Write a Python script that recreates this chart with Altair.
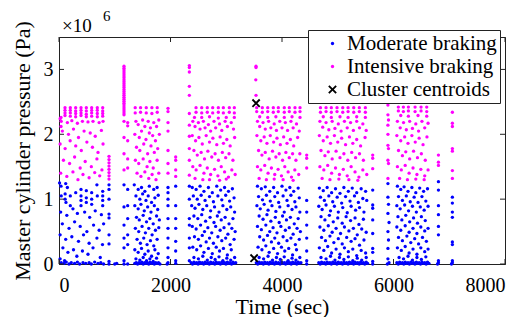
import altair as alt
import pandas as pd

# ---------------- data (time in s, pressure in 10^6 Pa) ----------------
B1_MOD = [(10,1.25),(36,1.2),(120,1.24),(150,1.18),(395,1.15),(490,1.13),(680,1.22),(40,1.05),(110,1.08),(110,1.0),
          (125,0.95),(203,1.05),(203,0.9),(300,1.1),(395,1.05),(395,0.98),(395,0.9),(490,1.02),(490,0.95),(586,1.1),
          (586,1.0),(586,0.92),(687,1.05),(784,1.12),(784,1.05),(784,0.98),(784,0.9),(30,0.8),(140,0.75),(250,0.85),
          (330,0.78),(460,0.8),(550,0.72),(650,0.82),(760,0.76),(60,0.62),(180,0.55),(280,0.65),(380,0.58),(500,0.5),
          (620,0.6),(720,0.52),(800,0.62),(20,0.45),(120,0.38),(230,0.42),(350,0.35),(440,0.45),(540,0.32),(680,0.4),
          (780,0.3),(70,0.25),(160,0.18),(260,0.22),(320,0.12),(420,0.2),(520,0.15),(610,0.25),(740,0.1),(20,0.08),
          (100,0.05),(40,0.02),(90,0.01),(130,0.03),(180,0.0),(220,0.02),(280,0.01),(330,0.03),(370,0.0),(430,0.02),
          (480,0.01),(540,0.02),(580,0.0),(640,0.03),(700,0.01),(750,0.02),(800,0.0),(897,1.22),(897,1.15),(897,1.0),
          (897,0.77),(897,0.71),(897,0.45),(897,0.31),(897,0.04),(897,0.0),(1035,0.01),(1000,0.0)]
B1_INT = [(108,2.41),(108,2.37),(108,2.33),(108,2.29),(203,2.41),(203,2.37),(203,2.33),(203,2.28),(299,2.41),(299,2.36),
          (299,2.32),(299,2.27),(395,2.41),(395,2.37),(395,2.33),(395,2.29),(490,2.41),(490,2.36),(490,2.31),(490,2.27),
          (586,2.41),(586,2.37),(586,2.33),(586,2.28),(687,2.41),(687,2.37),(687,2.32),(687,2.27),(784,2.41),(784,2.36),
          (784,2.32),(784,2.28),(36,2.26),(20,2.24),(36,2.12),(40,2.2),(150,2.18),(230,2.21),(330,2.17),(420,2.2),
          (520,2.19),(610,2.2),(720,2.18),(790,2.2),(60,2.05),(170,2.0),(260,2.08),(350,1.95),(450,2.05),(560,2.02),
          (650,1.97),(760,2.06),(20,1.85),(110,1.78),(200,1.9),(300,1.82),(400,1.75),(500,1.88),(600,1.8),(700,1.72),
          (790,1.85),(80,1.6),(190,1.55),(280,1.65),(380,1.48),(470,1.58),(580,1.5),(680,1.62),(770,1.45),(30,1.4),
          (140,1.35),(250,1.42),(340,1.3),(430,1.38),(540,1.33),(640,1.41),(730,1.36),(897,1.66),(897,1.61),(897,1.56),
          (897,1.51),(897,1.46),(897,1.41),(897,1.36),(897,1.31)]

B2_MOD = [(1166,1.22),(1166,0.88),(1166,0.6),(1166,0.4),(1166,0.25),(1166,0.05),(1166,0.0),(1232,1.15),(1232,0.9),(1232,0.7),
          (1232,0.45),(1232,0.3),(1232,0.0),(1350,1.22),(1420,1.15),(1480,1.18),(1540,1.12),(1620,1.2),(1700,1.15),(1760,1.18),
          (1380,1.05),(1450,1.0),(1500,1.08),(1560,0.98),(1600,1.05),(1660,0.95),(1720,1.02),(1780,1.06),(1360,0.9),(1420,0.85),
          (1470,0.92),(1530,0.82),(1590,0.88),(1650,0.8),(1710,0.9),(1770,0.84),(1390,0.72),(1440,0.68),(1510,0.75),(1570,0.65),
          (1630,0.7),(1690,0.62),(1750,0.74),(1800,0.68),(1370,0.55),(1430,0.5),(1490,0.58),(1550,0.48),(1610,0.55),(1670,0.45),
          (1730,0.52),(1790,0.56),(1400,0.38),(1460,0.32),(1520,0.4),(1580,0.3),(1640,0.36),(1700,0.28),(1760,0.38),(1360,0.22),
          (1420,0.18),(1480,0.24),(1540,0.15),(1600,0.2),(1660,0.12),(1720,0.22),(1780,0.16),(1380,0.08),(1450,0.06),(1510,0.1),
          (1570,0.05),(1630,0.08),(1690,0.04),(1750,0.09),(1360,0.01),(1385,0.02),(1410,0.0),(1435,0.02),(1460,0.01),(1485,0.03),
          (1510,0.0),(1535,0.02),(1560,0.01),(1585,0.02),(1610,0.0),(1635,0.03),(1660,0.01),(1685,0.02),(1710,0.0),(1735,0.02),
          (1760,0.01),(1785,0.02),(1810,0.0),(1955,1.18),(1955,1.1),(1955,1.0),(1955,0.9),(1955,0.7),(1955,0.55),(1955,0.4),
          (1955,0.25),(1955,0.1),(1955,0.02),(1940,0.0),(2093,1.2),(2093,0.9),(2093,0.7),(2093,0.55),(2093,0.35),(2093,0.2),
          (2093,0.05),(2093,0.01)]
B2_INT = [(1166,3.05),(1166,3.02),(1166,2.99),(1166,2.96),(1166,2.93),(1166,2.9),(1166,2.87),(1166,2.84),(1166,2.81),(1166,2.78),
          (1166,2.75),(1166,2.72),(1166,2.69),(1166,2.66),(1166,2.63),(1166,2.6),(1166,2.57),(1166,2.54),(1166,2.51),(1166,2.48),
          (1166,2.45),(1166,2.42),(1166,2.39),(1166,2.36),(1166,2.33),(1166,2.3),(1166,2.2),(1166,1.95),(1166,1.7),(1166,1.45),
          (1232,2.18),(1232,2.13),(1232,1.9),(1232,1.62),(1232,1.48),(1367,2.41),(1463,2.41),(1565,2.41),(1666,2.41),(1762,2.41),
          (1367,2.33),(1463,2.34),(1565,2.33),(1666,2.32),(1762,2.34),(1380,2.2),(1420,2.15),(1500,2.22),(1540,2.12),(1600,2.2),
          (1640,2.1),(1700,2.18),(1750,2.12),(1790,2.22),(1360,2.0),(1440,1.95),(1480,2.05),(1560,1.92),(1620,2.02),(1680,1.98),
          (1730,1.9),(1800,2.0),(1390,1.8),(1450,1.75),(1520,1.85),(1590,1.7),(1650,1.82),(1710,1.72),(1770,1.78),(1370,1.6),
          (1430,1.55),(1510,1.62),(1580,1.5),(1630,1.58),(1690,1.48),(1760,1.6),(1400,1.4),(1470,1.35),(1540,1.42),(1610,1.32),
          (1670,1.38),(1740,1.3),(1790,1.4),(1955,2.4),(1955,2.35),(1955,2.18),(1955,2.05),(1955,1.75),(1955,1.55),(1955,1.4),
          (2093,1.65),(2093,1.6),(2093,1.45),(2093,1.35)]

B3_MOD = [(2338,1.2),(2338,1.0),(2338,0.7),(2338,0.6),(2338,0.4),(2338,0.25),(2338,0.05),
          (2390,1.18),(2460,1.15),(2530,1.2),(2600,1.12),(2680,1.18),(2750,1.1),(2830,1.2),(2900,1.14),(2970,1.18),(3040,1.12),
          (3110,1.16),(2410,1.05),(2480,1.0),(2550,1.06),(2620,0.98),(2700,1.04),(2770,0.96),(2850,1.05),(2920,0.99),(2990,1.06),
          (3060,0.97),(3140,1.02),(2380,0.9),(2440,0.86),(2510,0.92),(2580,0.84),(2650,0.9),(2720,0.82),(2790,0.88),(2870,0.8),
          (2940,0.9),(3010,0.84),(3080,0.88),(3150,0.8),(2420,0.74),(2490,0.7),(2560,0.76),(2630,0.66),(2710,0.72),(2780,0.64),
          (2840,0.74),(2910,0.68),(2980,0.72),(3050,0.62),(3120,0.7),(2390,0.58),(2460,0.54),(2540,0.6),(2610,0.5),(2670,0.56),
          (2740,0.48),(2810,0.58),(2890,0.52),(2960,0.56),(3030,0.46),(3100,0.55),(3160,0.5),(2430,0.42),(2500,0.38),(2570,0.44),
          (2640,0.34),(2700,0.4),(2770,0.32),(2850,0.42),(2920,0.36),(2990,0.4),(3070,0.3),(3140,0.38),(2400,0.26),(2470,0.22),
          (2540,0.28),(2600,0.18),(2680,0.24),(2750,0.16),(2820,0.26),(2880,0.2),(2950,0.24),(3020,0.14),(3090,0.22),(2420,0.1),
          (2500,0.08),(2580,0.12),(2660,0.06),(2730,0.1),(2800,0.07),(2870,0.11),(2940,0.05),(3010,0.09),(3080,0.06),(3150,0.1),
          (2370,0.02),(2395,0.0),(2420,0.03),(2445,0.01),(2470,0.02),(2495,0.0),(2520,0.03),(2545,0.01),(2570,0.02),(2595,0.0),
          (2620,0.03),(2645,0.01),(2670,0.02),(2695,0.0),(2720,0.03),(2745,0.01),(2770,0.02),(2795,0.0),(2820,0.03),(2845,0.01),
          (2870,0.02),(2895,0.0),(2920,0.03),(2945,0.01),(2970,0.02),(2995,0.0),(3020,0.03),(3045,0.01),(3070,0.02),(3095,0.0),
          (3120,0.03),(3145,0.01),(3170,0.02)]
B3_INT = [(2338,3.06),(2338,3.03),(2338,2.96),(2338,2.74),(2338,2.6),(2338,2.32),(2338,2.14),(2338,1.97),(2338,1.78),(2338,1.6),
          (2338,1.37),(2458,2.41),(2560,2.41),(2660,2.41),(2757,2.41),(2858,2.41),(2948,2.41),(3055,2.41),(3145,2.41),(2458,2.34),
          (2560,2.33),(2660,2.34),(2757,2.33),(2858,2.34),(2948,2.33),(3055,2.34),(3145,2.33),(2430,2.26),(2560,2.26),(2700,2.27),
          (2858,2.25),(3000,2.26),(3145,2.26),(2400,2.2),(2440,2.12),(2500,2.18),(2530,2.08),(2590,2.2),(2620,2.1),(2680,2.15),
          (2720,2.05),(2780,2.2),(2810,2.1),(2880,2.16),(2920,2.06),(2980,2.2),(3020,2.12),(3090,2.18),(3130,2.08),(2390,1.98),
          (2450,1.9),(2510,1.95),(2570,1.85),(2640,1.98),(2700,1.88),(2760,1.94),(2830,1.84),(2890,1.96),(2950,1.86),(3010,1.92),
          (3070,1.82),(3150,1.95),(2420,1.75),(2480,1.68),(2550,1.72),(2610,1.62),(2670,1.74),(2740,1.65),(2800,1.7),(2860,1.6),
          (2930,1.72),(2990,1.64),(3050,1.7),(3120,1.6),(2400,1.5),(2460,1.45),(2530,1.52),(2600,1.4),(2660,1.48),(2720,1.38),
          (2790,1.46),(2850,1.36),(2910,1.5),(2970,1.42),(3040,1.34),(3100,1.45),(3160,1.38),(2440,1.32),(2580,1.3),(2700,1.3),
          (2880,1.29),(3000,1.31)]

B4_MOD = [(3560,1.2),(3630,1.16),(3700,1.19),(3780,1.12),(3850,1.18),(3920,1.1),(4000,1.2),(4070,1.14),(4140,1.18),(4210,1.12),
          (4290,1.17),(3580,1.04),(3650,0.99),(3720,1.06),(3790,0.97),(3870,1.04),(3940,0.95),(4020,1.05),(4090,0.98),(4160,1.06),
          (4230,0.96),(4310,1.02),(3550,0.9),(3610,0.85),(3680,0.92),(3750,0.83),(3820,0.9),(3890,0.81),(3960,0.88),(4040,0.8),
          (4110,0.9),(4180,0.84),(4250,0.88),(4320,0.8),(3590,0.74),(3660,0.69),(3730,0.76),(3800,0.66),(3880,0.72),(3950,0.64),
          (4010,0.74),(4080,0.68),(4150,0.72),(4220,0.62),(4290,0.7),(3560,0.58),(3630,0.53),(3710,0.6),(3780,0.5),(3840,0.56),
          (3910,0.48),(3980,0.58),(4060,0.52),(4130,0.56),(4200,0.46),(4270,0.55),(4330,0.5),(3600,0.42),(3670,0.37),(3740,0.44),
          (3810,0.34),(3870,0.4),(3940,0.32),(4020,0.42),(4090,0.36),(4160,0.4),(4240,0.3),(4310,0.38),(3570,0.26),(3640,0.22),
          (3710,0.28),(3770,0.18),(3850,0.24),(3920,0.16),(3990,0.26),(4050,0.2),(4120,0.24),(4190,0.14),(4260,0.22),(3590,0.1),
          (3670,0.08),(3750,0.12),(3830,0.06),(3900,0.1),(3970,0.07),(4040,0.11),(4110,0.05),(4180,0.09),(4250,0.06),(4320,0.1),
          (3540,0.02),(3565,0.0),(3590,0.03),(3615,0.01),(3640,0.02),(3665,0.0),(3690,0.03),(3715,0.01),(3740,0.02),(3765,0.0),
          (3790,0.03),(3815,0.01),(3840,0.02),(3865,0.0),(3890,0.03),(3915,0.01),(3940,0.02),(3965,0.0),(3990,0.03),(4015,0.01),
          (4040,0.02),(4065,0.0),(4090,0.03),(4115,0.01),(4140,0.02),(4165,0.0),(4190,0.03),(4215,0.01),(4240,0.02),(4265,0.0),
          (4290,0.03),(4315,0.01),(4340,0.02),(4443,0.98),(4443,0.8),(4443,0.6),(4443,0.4),(4443,0.2),(4443,0.05),(4443,0.0)]
B4_INT = [(3534,3.05),(3534,3.03),(3530,2.84),(3534,2.6),(3546,2.41),(3647,2.41),(3744,2.41),(3844,2.41),(3934,2.41),(4041,2.41),
          (4131,2.41),(4233,2.41),(4323,2.41),(3546,2.35),(3647,2.34),(3744,2.35),(3844,2.34),(3934,2.35),(4041,2.34),(4131,2.35),
          (4233,2.34),(4323,2.35),(3600,2.27),(3744,2.26),(3890,2.27),(4041,2.26),(4180,2.27),(4323,2.26),(3560,2.2),(3600,2.12),
          (3660,2.18),(3700,2.08),(3760,2.2),(3800,2.1),(3860,2.16),(3900,2.06),(3960,2.2),(4000,2.1),(4060,2.18),(4100,2.06),
          (4160,2.2),(4200,2.1),(4260,2.16),(4310,2.05),(3550,1.98),(3620,1.9),(3680,1.96),(3730,1.86),(3790,1.98),(3850,1.88),
          (3910,1.94),(3970,1.84),(4030,1.96),(4090,1.86),(4150,1.92),(4210,1.82),(4280,1.95),(3580,1.75),(3640,1.68),(3700,1.72),
          (3770,1.62),(3830,1.74),(3890,1.65),(3950,1.7),(4010,1.6),(4070,1.72),(4130,1.64),(4190,1.7),(4250,1.6),(4320,1.7),
          (3560,1.5),(3620,1.45),(3690,1.52),(3750,1.4),(3810,1.48),(3870,1.38),(3930,1.46),(3990,1.36),(4050,1.5),(4110,1.42),
          (4170,1.34),(4230,1.45),(4300,1.38),(3590,1.32),(3720,1.3),(3860,1.31),(4020,1.3),(4200,1.29),(4443,1.68),(4443,1.63),
          (4443,1.48)]

B5_MOD = [(4670,1.17),(4740,1.13),(4810,1.18),(4890,1.1),(4960,1.16),(5040,1.09),(5110,1.18),(5190,1.12),(5260,1.17),(5340,1.1),
          (5420,1.16),(5500,1.12),(4690,1.03),(4760,0.98),(4840,1.05),(4910,0.96),(4990,1.03),(5070,0.94),(5140,1.04),(5220,0.97),
          (5300,1.05),(5370,0.95),(5450,1.01),(5520,0.98),(4660,0.89),(4720,0.84),(4790,0.91),(4870,0.82),(4940,0.89),(5010,0.8),
          (5090,0.87),(5170,0.79),(5240,0.89),(5320,0.83),(5390,0.87),(5470,0.8),(4700,0.73),(4770,0.68),(4850,0.75),(4920,0.65),
          (5000,0.71),(5080,0.63),(5150,0.73),(5230,0.67),(5310,0.71),(5380,0.61),(5460,0.69),(4680,0.57),(4750,0.52),(4830,0.59),
          (4900,0.49),(4970,0.55),(5050,0.47),(5120,0.57),(5200,0.51),(5280,0.55),(5350,0.45),(5430,0.54),(5510,0.49),(4710,0.41),
          (4780,0.36),(4860,0.43),(4930,0.33),(5010,0.39),(5080,0.31),(5160,0.41),(5240,0.35),(5310,0.39),(5390,0.29),(5470,0.37),
          (4670,0.25),(4750,0.21),(4820,0.27),(4890,0.17),(4970,0.23),(5040,0.15),(5120,0.25),(5190,0.19),(5270,0.23),(5340,0.13),
          (5420,0.21),(5500,0.17),(4700,0.1),(4790,0.08),(4870,0.12),(4950,0.06),(5030,0.1),(5110,0.07),(5190,0.11),(5270,0.05),
          (5350,0.09),(5430,0.06),(5510,0.1),(4660,0.02),(4685,0.0),(4710,0.03),(4735,0.01),(4760,0.02),(4785,0.0),(4810,0.03),
          (4835,0.01),(4860,0.02),(4885,0.0),(4910,0.03),(4935,0.01),(4960,0.02),(4985,0.0),(5010,0.03),(5035,0.01),(5060,0.02),
          (5085,0.0),(5110,0.03),(5135,0.01),(5160,0.02),(5185,0.0),(5210,0.03),(5235,0.01),(5260,0.02),(5285,0.0),(5310,0.03),
          (5335,0.01),(5360,0.02),(5385,0.0),(5410,0.03),(5435,0.01),(5460,0.02),(5485,0.0),(5510,0.03),(5535,0.01),(5627,1.14),
          (5627,0.91),(5627,0.86),(5627,0.68),(5627,0.47),(5627,0.24),(5627,0.18),(5627,0.04),(5627,0.0)]
B5_INT = [(4690,2.41),(4790,2.41),(4885,2.41),(4987,2.41),(5090,2.41),(5185,2.41),(5287,2.41),(5387,2.41),(5495,2.41),(4690,2.34),
          (4790,2.35),(4885,2.34),(4987,2.35),(5090,2.34),(5185,2.35),(5287,2.34),(5387,2.35),(5495,2.34),(4740,2.27),(4885,2.26),
          (5040,2.27),(5185,2.26),(5340,2.27),(5495,2.26),(4680,2.2),(4730,2.11),(4790,2.18),(4840,2.07),(4900,2.2),(4950,2.09),
          (5010,2.16),(5060,2.05),(5120,2.2),(5170,2.1),(5230,2.18),(5280,2.06),(5340,2.2),(5390,2.1),(5450,2.16),(5510,2.06),
          (4670,1.98),(4740,1.9),(4810,1.96),(4870,1.86),(4940,1.98),(5000,1.88),(5070,1.94),(5140,1.84),(5210,1.96),(5270,1.86),
          (5340,1.92),(5410,1.82),(5490,1.95),(4700,1.75),(4770,1.67),(4830,1.73),(4900,1.62),(4970,1.74),(5040,1.64),(5110,1.7),
          (5180,1.6),(5250,1.72),(5320,1.64),(5390,1.7),(5460,1.6),(4680,1.5),(4750,1.45),(4820,1.52),(4890,1.4),(4960,1.48),
          (5030,1.38),(5100,1.46),(5170,1.36),(5240,1.5),(5310,1.42),(5380,1.34),(5450,1.45),(5520,1.38),(4720,1.32),(4860,1.3),
          (5020,1.31),(5200,1.3),(5360,1.29),(5627,1.68),(5627,1.63),(5627,1.47)]

B6_MOD = [(5900,1.24),(5900,1.03),(5910,0.92),(5900,0.78),(5920,0.64),(5900,0.5),(5910,0.37),(5900,0.24),(5900,0.08),(5920,0.02),
          (5890,0.0),(6070,1.2),(6130,1.15),(6190,1.19),(6260,1.12),(6330,1.18),(6400,1.1),(6470,1.17),(6540,1.12),(6610,1.16),
          (6090,1.04),(6160,0.98),(6230,1.05),(6300,0.96),(6370,1.03),(6440,0.95),(6510,1.04),(6580,0.97),(6060,0.9),(6120,0.85),
          (6200,0.91),(6270,0.82),(6340,0.89),(6410,0.8),(6480,0.88),(6550,0.83),(6620,0.89),(6080,0.73),(6150,0.68),(6220,0.75),
          (6290,0.65),(6360,0.71),(6430,0.63),(6500,0.73),(6570,0.67),(6060,0.57),(6130,0.52),(6210,0.59),(6280,0.49),(6350,0.55),
          (6420,0.47),(6490,0.57),(6560,0.51),(6620,0.55),(6090,0.41),(6160,0.36),(6240,0.43),(6310,0.33),(6380,0.39),(6450,0.31),
          (6520,0.41),(6590,0.35),(6070,0.25),(6140,0.21),(6210,0.27),(6280,0.17),(6350,0.23),(6420,0.15),(6490,0.25),(6560,0.19),
          (6620,0.23),(6100,0.1),(6180,0.08),(6260,0.12),(6340,0.06),(6420,0.1),(6500,0.07),(6580,0.11),(6060,0.02),(6085,0.0),
          (6110,0.03),(6135,0.01),(6160,0.02),(6185,0.0),(6210,0.03),(6235,0.01),(6260,0.02),(6285,0.0),(6310,0.03),(6335,0.01),
          (6360,0.02),(6385,0.0),(6410,0.03),(6435,0.01),(6460,0.02),(6485,0.0),(6510,0.03),(6535,0.01),(6560,0.02),(6585,0.0),
          (6610,0.03),(6635,0.01),(6806,1.27),(6806,1.14),(6806,0.9),(6806,0.76),(6806,0.58),(6806,0.45),(6806,0.05),(6806,0.02),
          (6790,0.0),(7056,1.03),(7056,0.94),(7056,0.8),(7056,0.72),(7056,0.34),(7056,0.3),(7056,0.05),(7056,0.02),(7040,0.0)]
B6_INT = [(5900,2.45),(5900,2.3),(5910,2.22),(5900,2.14),(5900,2.0),(5900,1.83),(5910,1.78),(5900,1.6),(5910,1.55),(5900,1.32),
          (6087,2.42),(6177,2.42),(6267,2.42),(6387,2.42),(6494,2.42),(6596,2.42),(6087,2.36),(6177,2.35),(6267,2.36),(6387,2.35),
          (6494,2.36),(6596,2.35),(6130,2.29),(6267,2.28),(6440,2.29),(6596,2.28),(6070,2.2),(6120,2.1),(6180,2.18),(6230,2.07),
          (6290,2.2),(6340,2.09),(6400,2.16),(6450,2.05),(6510,2.2),(6560,2.1),(6620,2.17),(6060,1.98),(6130,1.9),(6200,1.96),
          (6260,1.86),(6330,1.98),(6390,1.88),(6460,1.94),(6530,1.84),(6600,1.96),(6090,1.75),(6160,1.67),(6220,1.73),(6290,1.62),
          (6360,1.74),(6430,1.64),(6500,1.7),(6570,1.6),(6070,1.5),(6140,1.45),(6210,1.52),(6280,1.4),(6350,1.48),(6420,1.38),
          (6490,1.46),(6560,1.36),(6620,1.45),(6110,1.32),(6250,1.3),(6400,1.31),(6550,1.3),(6806,1.68),(6806,1.57),(6806,1.52),
          (7056,2.34),(7056,2.17),(7056,2.12),(7056,1.78),(7056,1.74),(7056,1.44),(7056,1.32)]

CENTROID_T = [3535, 3500]
CENTROID_P = [2.48, 0.09]

CLASSES = ["Moderate braking", "Intensive braking", "Cluster centroids"]
COLORS = ["#0000ff", "#ff00ff", "#000000"]
X_TICKS = [0, 2000, 4000, 6000, 8000]
Y_TICKS = [0, 1, 2, 3]
X_TITLE = "Time (sec)"
Y_TITLE = "Master cylinder pressure (Pa)"

# ---------------- build table ----------------
rows = []
for blk in (B1_MOD, B2_MOD, B3_MOD, B4_MOD, B5_MOD, B6_MOD):
    rows += [{"t": t, "p": p, "cls": CLASSES[0]} for t, p in blk]
for blk in (B1_INT, B2_INT, B3_INT, B4_INT, B5_INT, B6_INT):
    rows += [{"t": t, "p": p, "cls": CLASSES[1]} for t, p in blk]
rows += [{"t": t, "p": p, "cls": CLASSES[2]} for t, p in zip(CENTROID_T, CENTROID_P)]
df = pd.DataFrame(rows)

# bold "x" glyph as a filled polygon (symbol paths scale with sqrt(size)/2)
X_PATH = ("M-2.6,-1.8L-1.8,-2.6L0,-0.8L1.8,-2.6L2.6,-1.8L0.8,0L2.6,1.8L1.8,2.6L0,0.8"
          "L-1.8,2.6L-2.6,1.8L-0.8,0Z")
SERIF = "Liberation Serif"
AX = "#222222"

leg = alt.Legend(title=None, orient="none", legendX=249, legendY=-7, strokeColor=AX, fillColor="white",
                 padding=3, symbolOffset=11, labelOffset=4, rowPadding=1, symbolStrokeWidth=0, symbolSize=11,
                 labelFont=SERIF, labelFontSize=21, labelColor="black", labelLimit=400)

xs = alt.Scale(domain=[0, 8000], nice=False)
ys = alt.Scale(domain=[0, 3.5], nice=False)

points = alt.Chart(df).mark_point(filled=True, opacity=1, strokeWidth=0, size=11).encode(
    x=alt.X("t:Q", scale=xs, title=X_TITLE,
            axis=alt.Axis(values=X_TICKS, format="d", labelPadding=11, titlePadding=1,
                          labelFont=SERIF, labelFontSize=20, titleFont=SERIF, titleFontSize=22)),
    y=alt.Y("p:Q", scale=ys, title=Y_TITLE,
            axis=alt.Axis(values=Y_TICKS, format="d", labelPadding=6, titlePadding=9,
                          labelFont=SERIF, labelFontSize=20, titleFont=SERIF, titleFontSize=22)),
    color=alt.Color("cls:N", scale=alt.Scale(domain=CLASSES, range=COLORS), legend=leg),
    shape=alt.Shape("cls:N", scale=alt.Scale(domain=CLASSES, range=["circle", "circle", X_PATH]), legend=leg),
)

tx = pd.DataFrame({"t": X_TICKS})
ty = pd.DataFrame({"p": Y_TICKS})
tick_b = alt.Chart(tx).mark_rule(color=AX).encode(x=alt.X("t:Q", scale=xs, title=X_TITLE), y=alt.value(227), y2=alt.value(222))
tick_t = alt.Chart(tx).mark_rule(color=AX).encode(x=alt.X("t:Q", scale=xs, title=X_TITLE), y=alt.value(0), y2=alt.value(5))
tick_l = alt.Chart(ty).mark_rule(color=AX).encode(y=alt.Y("p:Q", scale=ys, title=Y_TITLE), x=alt.value(0), x2=alt.value(5))
tick_r = alt.Chart(ty).mark_rule(color=AX).encode(y=alt.Y("p:Q", scale=ys, title=Y_TITLE), x=alt.value(446), x2=alt.value(441))

mult = alt.Chart(pd.DataFrame({"s": ["×10"]})).mark_text(font=SERIF, fontSize=19, align="left", baseline="alphabetic",
                                                          color="black").encode(
    x=alt.value(3), y=alt.value(-5), text="s:N")
expo = alt.Chart(pd.DataFrame({"s": ["6"]})).mark_text(font=SERIF, fontSize=15, align="left", baseline="alphabetic",
                                                        color="black").encode(
    x=alt.value(44), y=alt.value(-16), text="s:N")

chart = alt.layer(points, tick_b, tick_t, tick_l, tick_r, mult, expo).properties(
    width=446, height=227,
    padding={"left": 51, "top": 29, "right": 19, "bottom": 53},
    autosize=alt.AutoSizeParams(type="none"),
).configure_view(stroke=AX, strokeWidth=1).configure_axis(
    grid=False, ticks=False, domainColor=AX, labelColor="black", titleFontWeight="normal", titleColor="black",
)

chart.save("out.html", embed_options={"renderer": "svg", "actions": False})
